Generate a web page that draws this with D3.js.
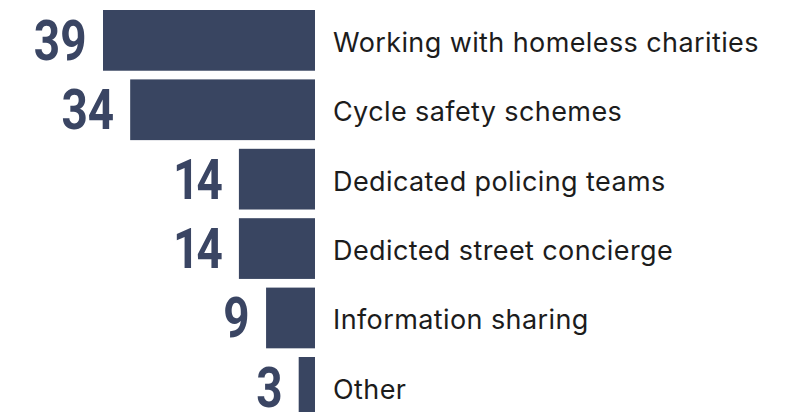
<!DOCTYPE html>
<html>
<head>
<meta charset="utf-8">
<script src="https://cdn.jsdelivr.net/npm/d3@7"></script>
<style>
  body { margin: 0; background: #fff; }
  .value { font-family: Roboto, sans-serif; font-weight: bold; fill: #3a4563; font-variant-numeric: proportional-nums; }
  .label { font-family: Inter, Roboto, sans-serif; fill: #1c1c1c; letter-spacing: 0.4px; }
</style>
</head>
<body>
<div id="chart"></div>
<script>
const categories = [`Working with homeless charities`, `Cycle safety schemes`, `Dedicated policing teams`,
  `Dedicted street concierge`, `Information sharing`, `Other`];
const values = [39, 34, 14, 14, 9, 3];

const width = 786;
const height = 412;
const barRight = 315;
const rowStep = 69.4;
const gap = 0.125;

const svg = d3.select(`#chart`)
  .append(`svg`)
    .attr(`width`, width)
    .attr(`height`, height);

// bars grow leftwards from a shared right edge
const x = d3.scaleLinear()
  .domain([0, 39])
  .range([barRight, 103]);

const y = d3.scaleBand()
  .domain(categories)
  .range([10, 10 + rowStep * (categories.length - gap)])
  .paddingInner(gap)
  .paddingOuter(0);

const rows = svg.selectAll(`.row`)
  .data(categories.map((c, i) => ({name: c, value: values[i]})))
  .enter().append(`g`)
    .attr(`class`, `row`);

rows.append(`rect`)
  .attr(`x`, d => x(d.value))
  .attr(`y`, d => y(d.name))
  .attr(`width`, d => barRight - x(d.value))
  .attr(`height`, y.bandwidth())
  .attr(`fill`, `#394561`);

// condensed look: squeeze the bold numerals horizontally
rows.append(`text`)
  .attr(`class`, `value`)
  .attr(`transform`, d => `translate(${x(d.value) - 16},${y(d.name) + y.bandwidth() / 2 + 19.5}) scale(0.82,1)`)
  .attr(`text-anchor`, `end`)
  .attr(`font-size`, 56)
  .text(d => d.value);

rows.append(`text`)
  .attr(`class`, `label`)
  .attr(`x`, 333)
  .attr(`y`, d => y(d.name) + y.bandwidth() / 2 + 11.5)
  .attr(`font-size`, 27)
  .text(d => d.name);
</script>
</body>
</html>
